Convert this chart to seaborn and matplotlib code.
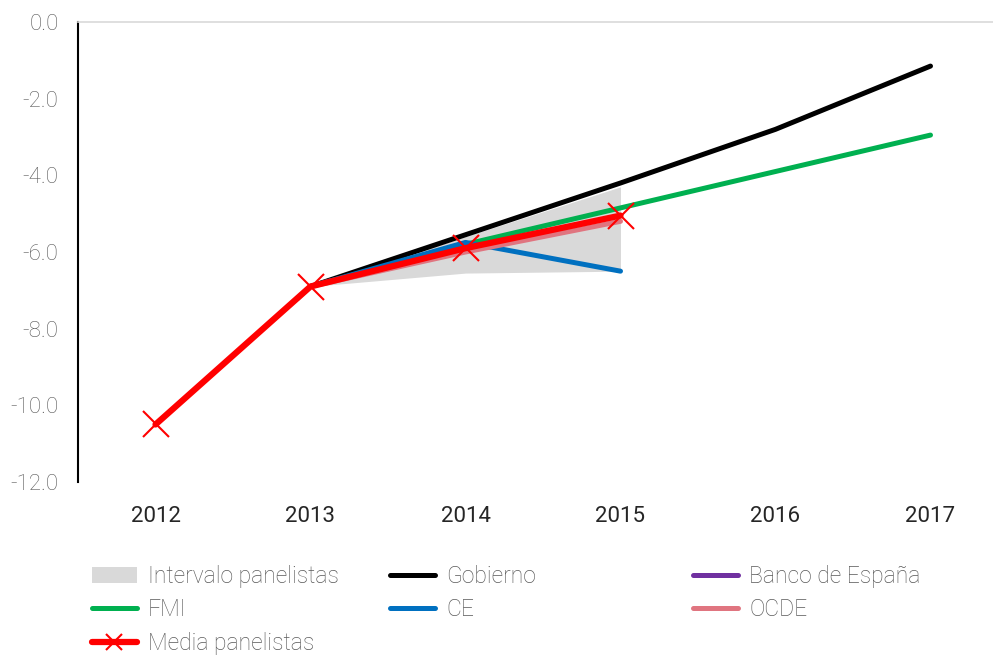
import pandas as pd
import matplotlib.pyplot as plt
import seaborn as sns
import numpy as np
from matplotlib.patches import Patch
from matplotlib.lines import Line2D

# Datos (déficit público, % PIB)
years = [2012, 2013, 2014, 2015, 2016, 2017]
media = [-10.5, -6.9, -5.9, -5.05, np.nan, np.nan]
gobierno = [np.nan, -6.9, -5.55, -4.2, -2.8, -1.15]
fmi = [np.nan, -6.9, -5.8, -4.85, -3.9, -2.95]
ce = [np.nan, -6.9, -5.75, -6.5, np.nan, np.nan]
ocde = [np.nan, -6.9, -6.0, -5.2, np.nan, np.nan]
banco_espana = [np.nan] * 6
intervalo_min = [np.nan, -6.9, -6.55, -6.5, np.nan, np.nan]
intervalo_max = [np.nan, -6.9, -5.6, -4.3, np.nan, np.nan]

colores = {
    'Gobierno': '#000000',
    'Banco de España': '#7030a0',
    'FMI': '#00b050',
    'CE': '#0070c0',
    'OCDE': '#e07580',
    'Media panelistas': '#ff0000',
}
gris = '#595959'

sns.set_style('white')
plt.rcParams['font.family'] = ['Roboto', 'DejaVu Sans']
plt.rcParams['font.weight'] = 'light'

fig = plt.figure(figsize=(9.93, 6.55), dpi=100)
ax = fig.add_axes([78 / 993, (655 - 482) / 655, 930 / 993, 460 / 655])

# Intervalo
ax.fill_between(years, intervalo_min, intervalo_max, color='#d9d9d9', linewidth=0, zorder=1)

series = [('Gobierno', gobierno), ('FMI', fmi), ('CE', ce), ('OCDE', ocde), ('Banco de España', banco_espana)]
for nombre, vals in series:
    df = pd.DataFrame({'year': years, 'val': vals}).dropna()
    if len(df):
        sns.lineplot(data=df, x='year', y='val', ax=ax, color=colores[nombre], lw=3.6, zorder=3)

df = pd.DataFrame({'year': years, 'val': media}).dropna()
sns.lineplot(data=df, x='year', y='val', ax=ax, color=colores['Media panelistas'], lw=4.5,
             marker='x', markersize=19, markeredgewidth=1.5, markeredgecolor='#ff0000', zorder=4)

ax.set_xlim(2011.5, 2017.5)
ax.set_ylim(-12, 0)
ax.set_yticks(np.arange(-12, 0.1, 2))
ax.set_yticklabels([f'{v:.1f}' for v in np.arange(-12, 0.1, 2)])
ax.set_xticks(years)
ax.set_xlabel('')
ax.set_ylabel('')

for s in ['right', 'bottom']:
    ax.spines[s].set_visible(False)
ax.spines['left'].set_color('black')
ax.spines['left'].set_linewidth(1.5)
ax.spines['top'].set_color('#d9d9d9')
ax.spines['top'].set_linewidth(1.2)

ax.tick_params(axis='y', labelsize=16, labelcolor=gris, length=0, pad=14)
ax.tick_params(axis='x', labelsize=16, labelcolor='#262626', length=0, pad=17)
for t in ax.get_xticklabels():
    t.set_fontweight('normal')

# Leyenda en tres columnas
h_int = Patch(facecolor='#d9d9d9', edgecolor='none', label='Intervalo panelistas')
def lin(n):
    return Line2D([], [], color=colores[n], lw=3.6, label=n)
h_media = Line2D([], [], color='#ff0000', lw=4.5, marker='x', markersize=12,
                 markeredgewidth=1.5, label='Media panelistas')

cols = [([h_int, lin('FMI'), h_media], 92),
        ([lin('Gobierno'), lin('CE')], 390),
        ([lin('Banco de España'), lin('OCDE')], 693)]
for handles, xpx in cols:
    leg = fig.legend(handles=handles, loc='upper left', bbox_to_anchor=(xpx / 993, 1 - 565 / 655),
                     frameon=False, fontsize=16.5, handlelength=1.95, handletextpad=0.5,
                     labelspacing=0.45, borderaxespad=0, borderpad=0)
    for t in leg.get_texts():
        t.set_color(gris)

fig.savefig('out.png', dpi=100)
